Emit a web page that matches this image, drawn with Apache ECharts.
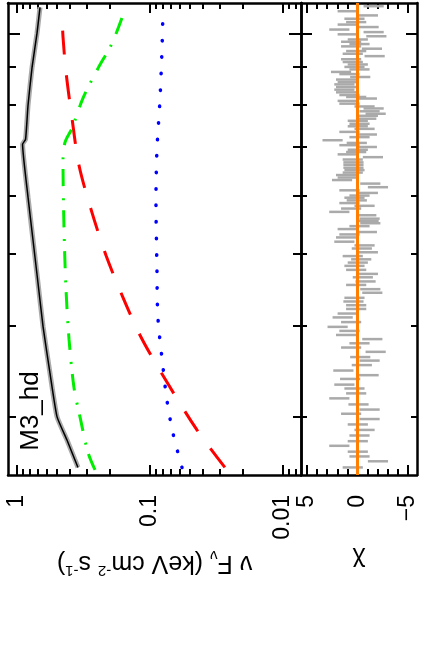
<!DOCTYPE html>
<html>
<head>
<meta charset="utf-8">
<script src="https://cdn.jsdelivr.net/npm/echarts@6.0.0/dist/echarts.min.js"></script>
<style>
  html, body { margin: 0; padding: 0; background: #fff; }
  #chart { width: 423px; height: 655px; }
</style>
</head>
<body>
<div id="chart"></div>
<script>
// values (energy in keV, flux in keV cm-2 s-1)
const modelE = [2.56, 2.79, 3.00, 3.44, 3.98, 4.56, 5.22, 5.98, 7.06, 7.17, 7.98, 8.99, 10.0, 10.85];
const modelF = [0.348, 0.421, 0.500, 0.565, 0.637, 0.695, 0.758, 0.827, 0.909, 0.863, 0.827, 0.771, 0.708, 0.672];

const dashedE = [2.56, 2.88, 3.47, 3.88, 4.37, 4.98, 5.76, 6.61, 7.66, 8.85, 9.88, 10.65];
const dashedF = [0.0273, 0.0443, 0.0841, 0.119, 0.160, 0.214, 0.278, 0.342, 0.386, 0.428, 0.451, 0.459];

const dashDotE = [2.54, 2.68, 3.00, 3.29, 3.82, 4.47, 5.39, 6.71, 7.10, 7.42, 8.16, 8.96, 9.69, 10.68];
const dashDotF = [0.259, 0.292, 0.336, 0.373, 0.406, 0.428, 0.443, 0.451, 0.436, 0.386, 0.319, 0.246, 0.193, 0.157];

const dottedE = [2.56, 2.85, 3.16, 3.51, 4.10, 4.80, 5.92, 6.93, 8.11, 9.48, 10.75];
const dottedF = [0.0574, 0.0671, 0.0745, 0.0798, 0.0871, 0.0886, 0.0901, 0.0886, 0.0841, 0.0812, 0.0798];

const residE = [10.89,10.72,10.58,10.47,10.36,10.28,10.20,10.12,10.04,9.97,9.91,9.81,9.74,9.67,9.60,9.53,9.46,9.38,9.31,9.22,
  9.14,9.07,9.00,8.93,8.86,8.80,8.72,8.65,8.58,8.52,8.45,8.38,8.31,8.24,8.19,8.15,8.09,8.02,7.95,7.90,
  7.83,7.77,7.72,7.65,7.60,7.53,7.47,7.41,7.34,7.28,7.22,7.15,7.09,7.04,7.00,6.94,6.89,6.84,6.78,6.73,
  6.67,6.62,6.56,6.51,6.46,6.41,6.36,6.31,6.24,6.17,6.11,6.06,6.01,5.97,5.92,5.87,5.82,5.77,5.71,5.65,
  5.59,5.55,5.51,5.46,5.41,5.36,5.32,5.27,5.20,5.14,5.09,5.03,4.97,4.92,4.87,4.82,4.76,4.70,4.65,4.59,
  4.54,4.48,4.43,4.36,4.31,4.26,4.21,4.15,4.10,4.04,3.98,3.93,3.88,3.83,3.78,3.73,3.68,3.62,3.58,3.53,
  3.47,3.42,3.38,3.32,3.28,3.23,3.18,3.12,3.07,3.03,2.98,2.93,2.88,2.83,2.78,2.74,2.69,2.65,2.61,2.56];
const residChi = [-1.6,0.97,-1.03,0.3,0.13,0.97,-1.1,1.8,-1.6,0.97,-1.87,-0.03,0.63,-0.2,0.63,-1.43,0.13,0.47,-1.7,0.63,
  0.47,-0.03,0.3,-0.2,1.63,0.8,-0.27,1.13,0.97,1.3,1.13,1.3,1.13,0.8,0.13,-0.93,0.97,0.8,-0.7,-1.6,
  -1.2,-1.8,-1.03,-0.87,-0.03,-0.2,-0.03,-0.7,0.8,-0.93,-0.2,2.47,0.07,0.8,-0.93,-0.03,0.13,0.97,-1.53,0.47,
  0.4,0.4,0.4,0.3,0.47,1.13,0.97,1.53,-1.27,-2.03,0.8,-1.03,-0.2,0.3,0.07,0.8,-0.7,0.63,1.8,-0.87,
  -1.2,-1.1,-1.27,-0.2,0.97,-0.93,0.8,1.13,1.3,-0.7,-0.43,-1.03,0.47,-0.37,-0.03,0.3,0.13,-1.03,-0.53,-0.8,
  0.13,-1.27,-1.47,0.3,0.4,0.13,0.13,0.97,1.47,0.63,1.97,0.8,1.13,-1.47,-0.2,0.63,-1.8,-0.27,-1.2,-0.43,
  1.4,-1.1,0.73,1.3,0.3,0.13,1.8,-0.1,-1.2,0.63,-1.2,-0.03,-0.7,-0.2,-0.03,1.8,-0.03,-0.2,-2.03,0.47];

// ticks
const fluxMajor = [1, 0.1, 0.01];
const fluxMinor = [0.9, 0.8, 0.7, 0.6, 0.5, 0.4, 0.3, 0.2, 0.09, 0.08, 0.07, 0.06, 0.05, 0.04, 0.03, 0.02, 0.009, 0.008];
const energyMajor = [10];
const energyMinor = [3, 4, 5, 6, 7, 8, 9];
const chiMajor = [5, 0, -5];
const chiMinor = [-4, -3, -2, -1, 1, 2, 3, 4];

const FONT = '"Liberation Sans", Arial, sans-serif';
const zip = (a, b) => a.map((v, i) => [v, b[i]]);

// one axis = one side of a frame; major and minor ticks are separate axes so the lengths differ
function xAx(grid, pos, kind, ticks, len, withLine) {
  const isFlux = kind === 'flux';
  return {
    type: isFlux ? 'log' : 'value',
    gridIndex: grid,
    position: pos,
    min: isFlux ? 0.0073 : -5.9,
    max: isFlux ? 1.17 : 5.6,
    inverse: true,
    splitLine: { show: false },
    axisLine: { show: withLine, onZero: false, lineStyle: { color: '#000', width: 2.5 } },
    axisTick: { show: true, inside: true, length: len, customValues: ticks, lineStyle: { color: '#000', width: 2 } },
    axisLabel: { show: false }
  };
}
function yAx(grid, pos, ticks, len, withLine) {
  return {
    type: 'log',
    gridIndex: grid,
    position: pos,
    min: 2.5,
    max: 11,
    splitLine: { show: false },
    axisLine: { show: withLine, onZero: false, lineStyle: { color: '#000', width: 2.5 } },
    axisTick: { show: true, inside: true, length: len, customValues: ticks, lineStyle: { color: '#000', width: 2 } },
    axisLabel: { show: false }
  };
}

const xAxes = [
  xAx(0, 'bottom', 'flux', fluxMajor, 10, true),
  xAx(0, 'bottom', 'flux', fluxMinor, 6, false),
  xAx(0, 'top', 'flux', fluxMajor, 10, true),
  xAx(0, 'top', 'flux', fluxMinor, 6, false),
  xAx(1, 'bottom', 'chi', chiMajor, 10, true),
  xAx(1, 'bottom', 'chi', chiMinor, 6, false),
  xAx(1, 'top', 'chi', chiMajor, 10, true),
  xAx(1, 'top', 'chi', chiMinor, 6, false)
];
// labels and names, rotated like the page was turned
xAxes[0].axisLabel = {
  show: true, customValues: fluxMajor, rotate: 90, margin: 20,
  fontSize: 23, fontFamily: FONT, color: '#000', formatter: v => String(v)
};
xAxes[0].name = 'ν F{sub|ν} (keV cm{sup|-2} s{sup|-1})';
xAxes[0].nameLocation = 'middle';
xAxes[0].nameGap = 72;
xAxes[0].nameRotate = 180;
xAxes[0].nameTextStyle = {
  fontSize: 25, fontFamily: FONT, color: '#000', lineHeight: 30,
  rich: {
    sub: { fontSize: 15, fontFamily: FONT, color: '#000', verticalAlign: 'bottom', lineHeight: 30 },
    sup: { fontSize: 15, fontFamily: FONT, color: '#000', verticalAlign: 'top', lineHeight: 30 }
  }
};
xAxes[4].axisLabel = {
  show: true, customValues: chiMajor, rotate: 90, margin: 20,
  fontSize: 23, fontFamily: FONT, color: '#000',
  formatter: v => (v < 0 ? '\u2212' + (-v) : String(v))
};
xAxes[4].name = 'χ';
xAxes[4].nameLocation = 'middle';
xAxes[4].nameGap = 72;
xAxes[4].nameRotate = 180;
xAxes[4].nameTextStyle = { fontSize: 25, fontFamily: FONT, color: '#000' };

const yAxes = [
  yAx(0, 'left', energyMajor, 12, true),
  yAx(0, 'left', energyMinor, 8, false),
  yAx(0, 'right', energyMajor, 12, true),
  yAx(0, 'right', energyMinor, 8, false),
  yAx(1, 'left', energyMajor, 11, true),
  yAx(1, 'left', energyMinor, 6, false),
  yAx(1, 'right', energyMajor, 11, true),
  yAx(1, 'right', energyMinor, 6, false)
];

const option = {
  backgroundColor: '#fff',
  animation: false,
  grid: [
    { left: 8, top: 3, width: 293, height: 472, containLabel: false, outerBoundsMode: 'none' },
    { left: 301, top: 3, width: 116, height: 472, containLabel: false, outerBoundsMode: 'none' }
  ],
  xAxis: xAxes,
  yAxis: yAxes,
  graphic: [{
    type: 'text', x: 31, y: 411, rotation: Math.PI / 2,
    style: { text: 'M3_hd', fontSize: 26, fontFamily: FONT, fill: '#000', align: 'center', verticalAlign: 'middle' }
  }],
  series: [
    {
      // data points, drawn as a broad grey band under the model
      type: 'line', xAxisIndex: 0, yAxisIndex: 0, data: zip(modelF, modelE), smooth: 0.15,
      symbol: 'none', lineStyle: { color: '#aaaaaa', width: 5 }
    },
    {
      type: 'line', xAxisIndex: 0, yAxisIndex: 0, data: zip(modelF, modelE), smooth: 0.15,
      symbol: 'none', lineStyle: { color: '#000', width: 1.5 }
    },
    {
      type: 'line', xAxisIndex: 0, yAxisIndex: 0, data: zip(dashedF, dashedE), smooth: 0.3,
      symbol: 'none', lineStyle: { color: '#ff0000', width: 3, type: [24, 21] }
    },
    {
      type: 'line', xAxisIndex: 0, yAxisIndex: 0, data: zip(dashDotF, dashDotE), smooth: 0.3,
      symbol: 'none', lineStyle: { color: '#00ee00', width: 3, type: [17, 10, 2, 12] }
    },
    {
      type: 'line', xAxisIndex: 0, yAxisIndex: 0, data: zip(dottedF, dottedE), smooth: 0.3,
      symbol: 'none', lineStyle: { color: '#0000ff', width: 3.5, type: [0.5, 16], cap: 'round' }
    },
    {
      // residuals: chi +/- 1 bars
      type: 'custom', xAxisIndex: 4, yAxisIndex: 4, data: zip(residChi, residE),
      encode: { x: 0, y: 1 },
      renderItem: function (params, api) {
        const c = api.value(0), e = api.value(1);
        const p1 = api.coord([c - 1, e]);
        const p2 = api.coord([c + 1, e]);
        return {
          type: 'line',
          shape: { x1: p1[0], y1: p1[1], x2: p2[0], y2: p2[1] },
          style: { stroke: '#aaaaaa', lineWidth: 2.5 }
        };
      },
      markLine: {
        silent: true, symbol: 'none', label: { show: false },
        lineStyle: { color: '#ff8000', width: 3, type: 'solid' },
        data: [{ xAxis: 0 }]
      }
    }
  ]
};

const chart = echarts.init(document.getElementById('chart'), null, { renderer: 'canvas' });
chart.setOption(option);
</script>
</body>
</html>
